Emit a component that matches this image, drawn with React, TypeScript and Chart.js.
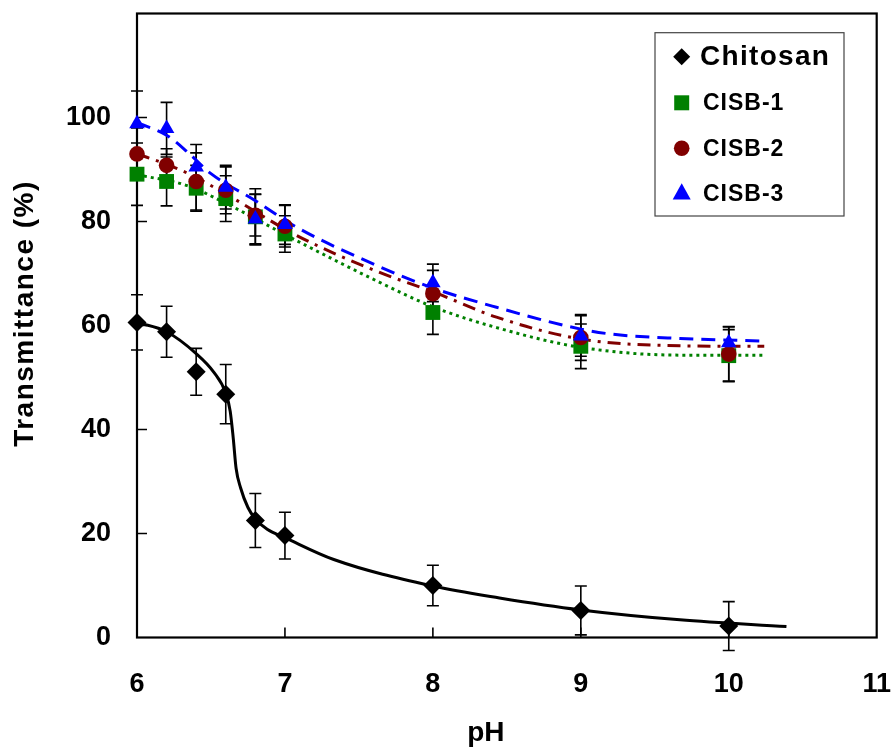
import React, { useEffect, useRef } from 'react';
import { Chart, registerables } from 'chart.js';

Chart.register(...registerables);

// ---- data ----
const phValues = [6, 6.2, 6.4, 6.6, 6.8, 7, 8, 9, 10];

const chitosan = [60.6, 58.8, 51.1, 46.8, 22.5, 19.6, 10.0, 5.2, 2.2];
const chitosanErr = [5.3, 4.9, 4.5, 5.7, 5.2, 4.5, 3.9, 4.7, 4.7];

const cisb1 = [89.1, 87.7, 86.4, 84.4, 80.9, 77.6, 62.5, 56.0, 54.2];
const cisb1Err = [6.0, 4.7, 4.4, 4.4, 5.4, 3.5, 4.2, 4.3, 5.0];

const cisb2 = [93.0, 90.8, 87.7, 86.0, 81.2, 79.1, 66.1, 57.7, 54.5];
const cisb2Err = [5.0, 3.2, 5.5, 4.5, 4.0, 4.0, 4.5, 4.4, 5.2];

const cisb3 = [98.8, 97.9, 90.5, 86.6, 80.5, 79.4, 68.2, 58.0, 56.7];
const cisb3Err = [6.3, 5.0, 4.3, 4.2, 4.8, 3.8, 3.6, 3.9, 3.1];

// fitted curves
const chitosanFitX = [6.0, 6.2, 6.4, 6.52, 6.6, 6.63, 6.65, 6.67, 6.7, 6.75, 6.8, 6.88, 7.0, 7.33, 8.0, 8.45, 9.0, 9.67, 10.39];
const chitosanFitY = [60.6, 58.8, 54.6, 51.0, 47.0, 43.5, 38.5, 32.5, 28.8, 25.0, 22.8, 20.8, 19.2, 15.0, 9.9, 7.6, 5.3, 3.4, 2.1];

const cisb1FitX = [6.0, 6.34, 6.6, 7.08, 7.64, 8.0, 8.43, 9.0, 9.67, 10.23];
const cisb1FitY = [89.0, 86.9, 83.5, 76.3, 68.3, 63.6, 59.6, 55.8, 54.3, 54.3];

const cisb2FitX = [6.0, 6.2, 6.34, 6.6, 7.08, 7.64, 8.0, 8.43, 9.0, 9.67, 10.24];
const cisb2FitY = [93.0, 91.0, 89.3, 85.3, 77.3, 70.2, 66.5, 61.6, 57.4, 56.1, 56.0];

const cisb3FitX = [6.0, 6.2, 6.34, 6.5, 6.8, 7.08, 7.64, 8.0, 8.43, 9.0, 9.22, 9.67, 10.24];
const cisb3FitY = [99.0, 96.6, 93.4, 89.2, 84.0, 78.9, 71.3, 67.2, 63.5, 59.3, 58.3, 57.5, 57.0];

const xTicks = [6, 7, 8, 9, 10, 11];
const yTickLabels = [0, 20, 40, 60, 80, 100];

const seriesNames = ['Chitosan', 'CISB-1', 'CISB-2', 'CISB-3'];
const xTitle = 'pH';
const yTitle = 'Transmittance (%)';

const FONT = "'Liberation Sans', Arial, Helvetica, sans-serif";

const toPts = (xs: number[], ys: number[]) => xs.map((x, i) => ({ x, y: ys[i] }));

function drawMarker(ctx: CanvasRenderingContext2D, style: string, x: number, y: number, r: number, color: string) {
  ctx.save();
  ctx.fillStyle = color;
  ctx.beginPath();
  if (style === 'rectRot') {
    ctx.moveTo(x, y - r);
    ctx.lineTo(x + r, y);
    ctx.lineTo(x, y + r);
    ctx.lineTo(x - r, y);
    ctx.closePath();
  } else if (style === 'rect') {
    ctx.rect(x - r, y - r, 2 * r, 2 * r);
  } else if (style === 'circle') {
    ctx.arc(x, y, r, 0, Math.PI * 2);
  } else if (style === 'triangle') {
    ctx.moveTo(x, y - r);
    ctx.lineTo(x + r, y + r * 0.8);
    ctx.lineTo(x - r, y + r * 0.8);
    ctx.closePath();
  }
  ctx.fill();
  ctx.restore();
}

const framePlugin = {
  id: 'frameAndErrors',
  beforeDatasetsDraw(chart: any) {
    const { ctx, chartArea: a, scales } = chart;
    const xs = scales.x;
    const ys = scales.y;
    ctx.save();
    ctx.strokeStyle = '#000';
    ctx.lineWidth = 2.2;
    ctx.strokeRect(a.left, a.top, a.width, a.height);
    ctx.lineWidth = 1.6;
    ctx.beginPath();
    xs.ticks.forEach((t: any) => {
      if (t.value > xs.min && t.value < xs.max) {
        const px = xs.getPixelForValue(t.value);
        ctx.moveTo(px, a.bottom);
        ctx.lineTo(px, a.bottom - 10);
      }
    });
    ys.ticks.forEach((t: any) => {
      if (t.value > ys.min && t.value < ys.max) {
        const py = ys.getPixelForValue(t.value);
        ctx.moveTo(a.left, py);
        ctx.lineTo(a.left + 10, py);
      }
    });
    ctx.stroke();

    // error bars
    ctx.lineWidth = 1.6;
    ctx.strokeStyle = '#000';
    chart.data.datasets.forEach((ds: any) => {
      if (!ds.errors) return;
      ds.data.forEach((p: any, j: number) => {
        const e = ds.errors[j];
        const px = xs.getPixelForValue(p.x);
        const top = ys.getPixelForValue(p.y + e);
        const bot = ys.getPixelForValue(p.y - e);
        ctx.beginPath();
        ctx.moveTo(px, top);
        ctx.lineTo(px, bot);
        ctx.moveTo(px - 6, top);
        ctx.lineTo(px + 6, top);
        ctx.moveTo(px - 6, bot);
        ctx.lineTo(px + 6, bot);
        ctx.stroke();
      });
    });
    ctx.restore();
  },
  afterDraw(chart: any) {
    const { ctx, chartArea: a } = chart;
    ctx.save();
    // axis titles
    ctx.fillStyle = '#000';
    ctx.font = `bold 28px ${FONT}`;
    ctx.textAlign = 'center';
    ctx.textBaseline = 'middle';
    ctx.fillText(xTitle, (a.left + a.right) / 2 - 21, 733);
    ctx.save();
    ctx.translate(25, (a.top + a.bottom) / 2 - 12);
    ctx.rotate(-Math.PI / 2);
    (ctx as any).letterSpacing = '1.5px';
    ctx.fillText(yTitle, 0, 0);
    ctx.restore();

    // legend box
    const bx = 655, by = 32.7, bw = 189, bh = 183.3;
    ctx.fillStyle = '#fff';
    ctx.fillRect(bx, by, bw, bh);
    ctx.strokeStyle = '#444';
    ctx.lineWidth = 1.2;
    ctx.strokeRect(bx, by, bw, bh);

    const rows = [56.7, 102.8, 148.3, 193.3];
    const legendItems = [
      { style: 'rectRot', r: 8.5, color: '#000', font: `bold 28px ${FONT}`, spacing: '1.3px', tx: 700 },
      { style: 'rect', r: 7.5, color: '#008000', font: `bold 23px ${FONT}`, spacing: '1px', tx: 703 },
      { style: 'circle', r: 7.8, color: '#800000', font: `bold 23px ${FONT}`, spacing: '1px', tx: 703 },
      { style: 'triangle', r: 9, color: '#0000ff', font: `bold 23px ${FONT}`, spacing: '1px', tx: 703 },
    ];
    legendItems.forEach((it, i) => {
      const y = rows[i];
      drawMarker(ctx, it.style, 681.7, y + (it.style === 'triangle' ? -1 : 0), it.r, it.color);
      ctx.fillStyle = '#000';
      ctx.font = it.font;
      (ctx as any).letterSpacing = it.spacing;
      ctx.textAlign = 'left';
      ctx.textBaseline = 'middle';
      ctx.fillText(seriesNames[i], it.tx, y + 1);
    });
    ctx.restore();
  },
};

const zeroPad = (s: any) => {
  s.paddingLeft = 0;
  s.paddingRight = 0;
  s.paddingTop = 0;
  s.paddingBottom = 0;
};

export default function App() {
  const ref = useRef<HTMLCanvasElement | null>(null);

  useEffect(() => {
    if (!ref.current) return;
    const pointDs = (label: string, ys: number[], errs: number[], style: string, r: number, color: string, order: number) => ({
      label,
      data: toPts(phValues, ys),
      errors: errs,
      showLine: false,
      pointStyle: style,
      pointRadius: r,
      pointHoverRadius: r,
      pointBackgroundColor: color,
      pointBorderColor: color,
      pointBorderWidth: 0,
      borderColor: color,
      backgroundColor: color,
      clip: false,
      order,
    });
    const fitDs = (label: string, xs: number[], ys: number[], color: string, dash: number[], order: number) => ({
      label,
      data: toPts(xs, ys),
      showLine: true,
      pointRadius: 0,
      borderColor: color,
      borderWidth: 3,
      borderDash: dash,
      cubicInterpolationMode: 'monotone',
      fill: false,
      clip: false,
      order,
    });

    const chart = new Chart(ref.current, {
      type: 'line',
      data: {
        datasets: [
          pointDs(seriesNames[3], cisb3, cisb3Err, 'triangle', 9, '#0000ff', 1),
          pointDs(seriesNames[2], cisb2, cisb2Err, 'circle', 7.8, '#800000', 2),
          pointDs(seriesNames[1], cisb1, cisb1Err, 'rect', 10.5, '#008000', 3),
          pointDs(seriesNames[0], chitosan, chitosanErr, 'rectRot', 9.5, '#000000', 4),
          fitDs(seriesNames[3] + ' fit', cisb3FitX, cisb3FitY, '#0000ff', [14, 8], 5),
          fitDs(seriesNames[2] + ' fit', cisb2FitX, cisb2FitY, '#800000', [13, 7, 3, 7], 6),
          fitDs(seriesNames[1] + ' fit', cisb1FitX, cisb1FitY, '#008000', [3, 4], 7),
          fitDs(seriesNames[0] + ' fit', chitosanFitX, chitosanFitY, '#000000', [], 8),
        ] as any,
      },
      options: {
        animation: false,
        responsive: true,
        maintainAspectRatio: false,
        layout: { padding: { top: 13.5, right: 15.3, left: 0, bottom: 0 } },
        plugins: {
          legend: { display: false },
          tooltip: { enabled: false },
        },
        scales: {
          x: {
            type: 'linear',
            min: xTicks[0],
            max: xTicks[xTicks.length - 1],
            afterBuildTicks: (s: any) => { s.ticks = xTicks.map((v) => ({ value: v })); },
            afterFit: (s: any) => { s.height = 109.5; zeroPad(s); },
            ticks: {
              color: '#000',
              font: { family: FONT, size: 27, weight: 'bold' },
              padding: 31,
              maxRotation: 0,
              autoSkip: false,
            },
            grid: { display: false, drawTicks: false },
            border: { display: false },
          },
          y: {
            type: 'linear',
            min: 0,
            max: 120,
            afterBuildTicks: (s: any) => { s.ticks = [...yTickLabels, 120].map((v) => ({ value: v })); },
            afterFit: (s: any) => { s.width = 137; zeroPad(s); },
            ticks: {
              color: '#000',
              font: { family: FONT, size: 27, weight: 'bold' },
              padding: 26,
              autoSkip: false,
              callback: (v: any) => (yTickLabels.includes(v) ? String(v) : ''),
            },
            grid: { display: false, drawTicks: false },
            border: { display: false },
          },
        },
      } as any,
      plugins: [framePlugin],
    });
    return () => chart.destroy();
  }, []);

  return (
    <div style={{ position: 'fixed', left: 0, top: 0, width: 892, height: 747, background: '#fff' }}>
      <canvas ref={ref} />
    </div>
  );
}
